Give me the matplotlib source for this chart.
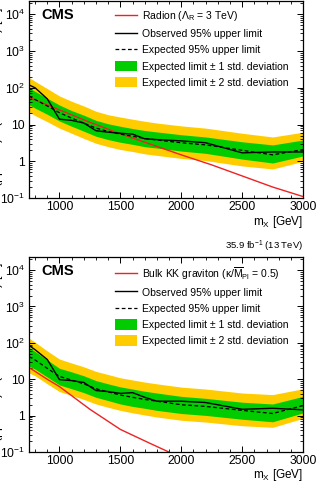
import numpy as np
import matplotlib
matplotlib.use('Agg')
import matplotlib.pyplot as plt
from matplotlib.lines import Line2D
from matplotlib.patches import Patch


plt.rcParams['font.family'] = ['Liberation Sans', 'DejaVu Sans']
plt.rcParams['mathtext.fontset'] = 'custom'
plt.rcParams['mathtext.rm'] = 'Liberation Sans'
plt.rcParams['mathtext.it'] = 'Liberation Sans:italic'
plt.rcParams['mathtext.bf'] = 'Liberation Sans:bold'


# mass points of the limits (GeV)
masses = [750, 800, 900, 1000, 1100, 1200, 1300, 1400, 1500, 1600, 1700, 1800, 2000, 2200, 2500, 2750, 3000]

# radion limits (fb)
rad_obs = [120, 100, 50, 14, 13, 11, 6.8, 6.2, 5.8, 5.5, 4.1, 3.9, 3.6, 3.2, 1.7, 1.8, 1.8]
rad_exp = [60, 48, 32, 21, 15, 11, 8.0, 6.5, 5.5, 4.8, 4.2, 3.8, 3.2, 2.8, 2.0, 1.5, 2.1]
rad_1up = [100, 80, 52, 34, 24, 18, 13, 10.5, 9, 7.8, 6.9, 6.3, 5.3, 4.6, 3.4, 2.8, 3.8]
rad_1dn = [35, 28, 19, 12.5, 9, 6.6, 4.8, 3.9, 3.3, 2.9, 2.5, 2.3, 1.9, 1.65, 1.15, 0.9, 1.4]
rad_2up = [190, 150, 95, 60, 43, 32, 23, 18.5, 16, 14, 12.3, 11, 9.2, 8, 5.8, 4.6, 6.2]
rad_2dn = [22, 17.5, 12, 8, 5.8, 4.2, 3.1, 2.5, 2.1, 1.85, 1.6, 1.45, 1.2, 1.05, 0.75, 0.62, 1.0]

# radion theory cross section
rad_th_m = [750, 1000, 1250, 1500, 1750, 2000, 2250, 2500, 2750, 3000]
rad_th = [55, 25, 11.5, 5.6, 2.9, 1.5, 0.8, 0.4, 0.2, 0.11]

# bulk graviton limits (fb)
grav_obs = [85, 65, 35, 9.8, 9.2, 8.2, 4.9, 4.6, 4.1, 4.3, 3.2, 2.5, 2.5, 2.3, 1.5, 1.6, 1.45]
grav_exp = [42, 34, 20, 12, 9.5, 7.5, 5.5, 4.5, 3.7, 3.2, 2.8, 2.5, 2.0, 1.8, 1.4, 1.15, 1.9]
grav_1up = [75, 58, 34, 20, 16, 12.5, 9.2, 7.5, 6.2, 5.4, 4.7, 4.2, 3.4, 3.0, 2.35, 2.1, 3.4]
grav_1dn = [23, 19, 11.5, 7, 5.5, 4.3, 3.2, 2.6, 2.1, 1.8, 1.6, 1.4, 1.15, 1.02, 0.8, 0.68, 1.2]
grav_2up = [135, 105, 60, 36, 28, 22, 16.5, 13.5, 11, 9.6, 8.4, 7.5, 6.1, 5.4, 4.2, 3.8, 5.5]
grav_2dn = [15, 12.5, 7.5, 4.6, 3.6, 2.8, 2.1, 1.7, 1.4, 1.2, 1.05, 0.92, 0.75, 0.67, 0.53, 0.48, 0.85]

# bulk graviton theory cross section
grav_th_m = [750, 800, 900, 1000, 1250, 1500, 1750, 2000]
grav_th = [21, 16.5, 10, 6.3, 1.5, 0.42, 0.17, 0.07]

ytick_vals = [0.1, 1, 10, 100, 1000, 10000]
ytick_labels = ['$10^{-1}$', '1', '10', '$10^{2}$', '$10^{3}$', '$10^{4}$']
xtick_vals = [1000, 1500, 2000, 2500, 3000]

GREEN = '#00cc00'
YELLOW = '#ffcc00'
RED = '#ee2222'

ylab = r'$\sigma$(pp → X) B(X → HH → b$\overline{\mathrm{b}}$b$\overline{\mathrm{b}}$) [fb]'


def draw_panel(ax, obs, exp, up1, dn1, up2, dn2, th_m, th, th_label, label_y):
    ax.fill_between(masses, dn2, up2, color=YELLOW, lw=0)
    ax.fill_between(masses, dn1, up1, color=GREEN, lw=0)
    ax.plot(th_m, th, color=RED, lw=1.0)
    ax.plot(masses, exp, color='black', lw=0.9, ls=(0, (3, 2)))
    ax.plot(masses, obs, color='black', lw=1.0)

    ax.set_yscale('log')
    ax.set_xlim(750, 3000)
    ax.set_ylim(0.1, 2.3e4)
    ax.set_yticks(ytick_vals)
    ax.set_yticklabels(ytick_labels)
    ax.set_xticks(xtick_vals)
    ax.set_xticks(np.arange(800, 3000, 100), minor=True)
    ax.tick_params(which='both', direction='in', top=True, right=True, labelsize=8.7)
    ax.tick_params(which='major', length=4, width=0.7)
    ax.tick_params(which='minor', length=2, width=0.6)
    ax.tick_params(axis='x', pad=2.2)
    ax.tick_params(axis='y', pad=3)
    for s in ax.spines.values():
        s.set_linewidth(0.9)

    ax.set_xlabel('m$_\\mathrm{X}$ [GeV]', fontsize=8.5, loc='right')
    ax.xaxis.set_label_coords(1.0, label_y)

    ax.text(0.045, 0.93, 'CMS', transform=ax.transAxes, fontsize=10.5,
            fontweight='bold', ha='left', va='center')

    handles = [Line2D([], [], color=RED, lw=1.0),
               Line2D([], [], color='black', lw=1.0),
               Line2D([], [], color='black', lw=0.9, ls=(0, (3, 2))),
               Patch(facecolor=GREEN, edgecolor='none'),
               Patch(facecolor=YELLOW, edgecolor='none')]
    labels = [th_label,
              'Observed 95% upper limit',
              'Expected 95% upper limit',
              'Expected limit ± 1 std. deviation',
              'Expected limit ± 2 std. deviation']
    ax.legend(handles, labels, loc='upper left', bbox_to_anchor=(0.29, 0.99),
              frameon=False, fontsize=7.5, handlelength=2.1, handleheight=1.15,
              handletextpad=0.5, labelspacing=0.52, borderaxespad=0.2)


fig = plt.figure(figsize=(3.18, 4.82), dpi=100)
ax1 = fig.add_axes([0.0912, 0.589, 0.862, 0.409])
ax2 = fig.add_axes([0.0912, 0.062, 0.862, 0.405])

draw_panel(ax1, rad_obs, rad_exp, rad_1up, rad_1dn, rad_2up, rad_2dn,
           rad_th_m, rad_th, 'Radion ($\\Lambda_\\mathrm{R}$ = 3 TeV)', -0.08)
draw_panel(ax2, grav_obs, grav_exp, grav_1up, grav_1dn, grav_2up, grav_2dn,
           grav_th_m, grav_th, 'Bulk KK graviton (κ/$\\overline{\\mathrm{M}}_\\mathrm{Pl}$ = 0.5)', -0.075)

ax2.text(1.0, 1.015, '35.9 fb$^{-1}$ (13 TeV)', transform=ax2.transAxes,
         fontsize=6.8, ha='right', va='bottom')

# y labels mostly cut off by the figure edge, as in the reference
fig.text(6 / 318, 1 - 100 / 482, ylab, rotation=90, ha='right', va='center', fontsize=8.7)
fig.text(6 / 318, 1 - 355 / 482, ylab, rotation=90, ha='right', va='center', fontsize=8.7)

fig.savefig('out.png', dpi=100)
